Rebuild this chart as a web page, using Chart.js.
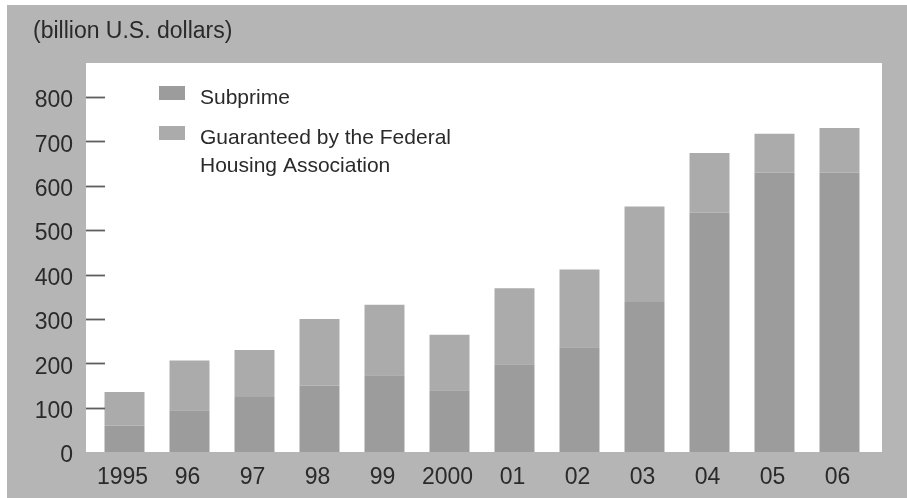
<!DOCTYPE html>
<html>
<head>
<meta charset="utf-8">
<script src="https://cdn.jsdelivr.net/npm/chart.js@4.4.1/dist/chart.umd.min.js"></script>
<style>
  html, body { margin: 0; padding: 0; background: #ffffff; }
  #wrap { width: 907px; height: 498px; position: relative; }
</style>
</head>
<body>
<div id="wrap"><canvas id="c" width="907" height="498"></canvas></div>
<script>
// ---- data ----
const years = ['1995', '96', '97', '98', '99', '2000', '01', '02', '03', '04', '05', '06'];
const subprime = [60, 94, 124, 150, 173, 139, 198, 236, 338, 540, 630, 630];
const fhaGuaranteed = [75, 112, 106, 150, 159, 125, 171, 175, 215, 134, 87, 100];
const yTicks = [0, 100, 200, 300, 400, 500, 600, 700, 800];
const unitTitle = '(billion U.S. dollars)';
const seriesNames = ['Subprime', 'Guaranteed by the Federal Housing Association'];

const BG_GRAY = '#b5b5b5';
const TEXT = '#2a2a2a';
const FONT = "'Liberation Sans', Arial, sans-serif";

const backgroundPlugin = {
  id: 'panelBg',
  beforeDraw(chart) {
    const { ctx, chartArea: a, width, height } = chart;
    ctx.save();
    ctx.fillStyle = '#ffffff';
    ctx.fillRect(0, 0, width, height);
    ctx.fillStyle = BG_GRAY;
    ctx.fillRect(7, 5, width - 7, height - 5);
    ctx.fillStyle = '#ffffff';
    ctx.fillRect(a.left - 6, a.top - 34, (a.right + 10) - (a.left - 6), a.bottom - (a.top - 34));
    ctx.restore();
  }
};

const tickDashPlugin = {
  id: 'tickDash',
  afterDatasetsDraw(chart) {
    const { ctx, chartArea: a } = chart;
    const y = chart.scales.y;
    ctx.save();
    ctx.strokeStyle = '#5e5e5e';
    ctx.lineWidth = 1.8;
    y.ticks.forEach(t => {
      if (t.value === 0) return;
      const py = Math.round(y.getPixelForValue(t.value)) + 0.5;
      ctx.beginPath();
      ctx.moveTo(a.left - 6, py);
      ctx.lineTo(a.left + 13, py);
      ctx.stroke();
    });
    ctx.restore();
  }
};

function wrapText(ctx, text, maxW) {
  const words = text.split(' ');
  const lines = [];
  let cur = '';
  words.forEach(w => {
    const test = cur ? cur + ' ' + w : w;
    if (ctx.measureText(test).width > maxW && cur) {
      lines.push(cur);
      cur = w;
    } else {
      cur = test;
    }
  });
  if (cur) lines.push(cur);
  return lines;
}

const legendPlugin = {
  id: 'customLegend',
  afterDraw(chart) {
    const { ctx } = chart;
    ctx.save();
    ctx.font = '21px ' + FONT;
    ctx.textBaseline = 'alphabetic';
    ctx.textAlign = 'left';
    const boxX = 159, textX = 200;
    const starts = [86, 126];
    const baselines = [104, 144];
    chart.data.datasets.forEach((ds, i) => {
      ctx.fillStyle = ds.backgroundColor;
      ctx.fillRect(boxX, starts[i], 26, 14);
      ctx.fillStyle = TEXT;
      const lines = wrapText(ctx, ds.label, 270);
      lines.forEach((ln, j) => {
        ctx.fillText(ln, textX, baselines[i] + j * 27.5);
      });
    });
    ctx.restore();
  }
};

new Chart(document.getElementById('c'), {
  type: 'bar',
  data: {
    labels: years,
    datasets: [
      { label: seriesNames[0], data: subprime, backgroundColor: '#9c9c9c', borderWidth: 0 },
      { label: seriesNames[1], data: fhaGuaranteed, backgroundColor: '#ababab', borderWidth: 0 }
    ]
  },
  options: {
    responsive: false,
    animation: false,
    devicePixelRatio: 1,
    layout: { padding: { left: 33, top: 0, right: 35, bottom: 0 } },
    datasets: { bar: { barPercentage: 0.615, categoryPercentage: 1.0 } },
    plugins: {
      legend: { display: false },
      tooltip: { enabled: false },
      title: {
        display: true,
        text: unitTitle,
        align: 'start',
        color: TEXT,
        font: { family: FONT, size: 23, weight: 'normal' },
        padding: { top: 17.4, bottom: 52 }
      }
    },
    scales: {
      x: {
        stacked: true,
        grid: { display: false, drawTicks: false },
        border: { display: false },
        ticks: {
          color: TEXT,
          font: { family: FONT, size: 23 },
          padding: 12,
          labelOffset: -2,
          maxRotation: 0,
          autoSkip: false
        },
        afterFit(scale) { scale.height = 46; }
      },
      y: {
        stacked: true,
        min: 0,
        max: 800,
        grid: { display: false, drawTicks: false },
        border: { display: false },
        afterBuildTicks(scale) { scale.ticks = yTicks.map(v => ({ value: v })); },
        ticks: {
          color: TEXT,
          font: { family: FONT, size: 23 },
          padding: 19,
          labelOffset: 4
        },
        afterFit(scale) { scale.width = 59; }
      }
    }
  },
  plugins: [backgroundPlugin, tickDashPlugin, legendPlugin]
});
</script>
</body>
</html>
